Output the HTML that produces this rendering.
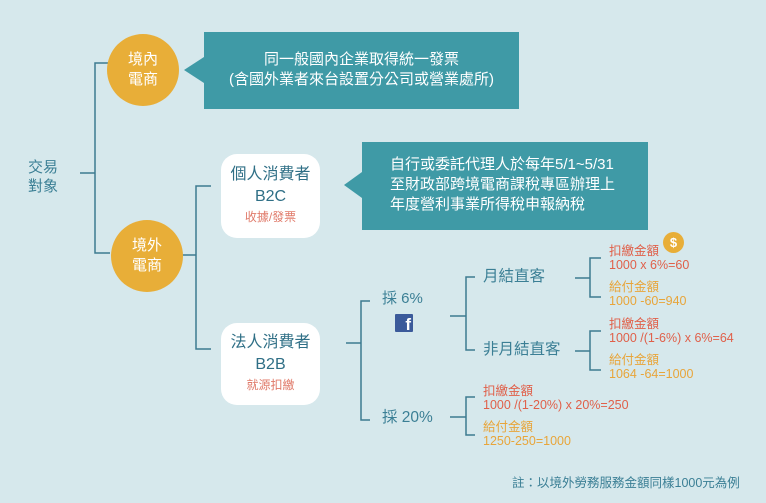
<!DOCTYPE html>
<html><head><meta charset="utf-8"><style>
body{margin:0;width:766px;height:503px;background:#d6e8ec;position:relative;overflow:hidden;font-family:"Liberation Sans","Noto Sans CJK TC",sans-serif}
.t{position:absolute;white-space:nowrap;line-height:1}
.circ{position:absolute;width:72px;height:72px;border-radius:50%;background:#e8ae38;color:#fff;font-size:15px;line-height:20px;text-align:center;display:flex;align-items:center;justify-content:center}
.box{position:absolute;width:99px;background:#fff;border-radius:16px;text-align:center;color:#2f6f86}
.call{position:absolute;background:#3f9aa6;color:#fff;font-size:15px;line-height:20px}
.r{color:#e0604a;font-size:12.5px;line-height:14px}
.o{color:#e8a53a;font-size:12.5px;line-height:14px}
.b{color:#3b7f95}
</style></head><body>
<svg width="766" height="503" style="position:absolute;left:0;top:0" fill="none" stroke="#3d7a90" stroke-width="1.5">
<path d="M80 173H95M110 63H95V253H110"/>
<path d="M181 255H196M211 186H196V349H211"/>
<path d="M346 343H361M370 301H361V420H370"/>
<path d="M450 316H466M475 277H466V350H475"/>
<path d="M575 278H590M601 258H590V297H601"/>
<path d="M575 351H590M601 331H590V370H601"/>
<path d="M450 417H466M475 397H466V435H475"/>
<polygon points="184,70 204,57 204,83" fill="#3f9aa6" stroke="none"/>
<polygon points="344,185 362,172 362,198" fill="#3f9aa6" stroke="none"/>
</svg>
<div class="t b" style="left:28px;top:158px;font-size:15px;line-height:19px">交易<br>對象</div>
<div class="circ" style="left:107px;top:34px">境內<br>電商</div>
<div class="circ" style="left:111px;top:220px">境外<br>電商</div>
<div class="call" style="left:204px;top:32px;width:315px;height:77px;text-align:center;padding-top:18px;box-sizing:border-box">同一般國內企業取得統一發票<br>(含國外業者來台設置分公司或營業處所)</div>
<div class="call" style="left:362px;top:142px;width:286px;height:88px;padding:13px 0 0 28px;box-sizing:border-box">自行或委託代理人於每年5/1~5/31<br>至財政部跨境電商課稅專區辦理上<br>年度營利事業所得稅申報納稅</div>
<div class="box" style="left:221px;top:154px;height:84px"><div style="font-size:16px;margin-top:10px;line-height:22px">個人消費者</div><div style="font-size:16px;line-height:22px">B2C</div><div style="font-size:12px;color:#e07a6a;line-height:18px">收據/發票</div></div>
<div class="box" style="left:221px;top:323px;height:82px"><div style="font-size:16px;margin-top:9px;line-height:22px">法人消費者</div><div style="font-size:16px;line-height:22px">B2B</div><div style="font-size:12px;color:#e07a6a;line-height:18px">就源扣繳</div></div>
<div class="t b" style="left:382px;top:291px;font-size:15px">採 6%</div>
<div style="position:absolute;left:395px;top:314px;width:18px;height:18px;background:#3b5a9a;border-radius:1px;color:#fff;font-weight:bold;font-size:17px;line-height:22px;text-align:right;padding-right:2px;box-sizing:border-box;overflow:hidden">f</div>
<div class="t b" style="left:382px;top:410px;font-size:15.5px">採 20%</div>
<div class="t b" style="left:483px;top:269px;font-size:15.5px">月結直客</div>
<div class="t b" style="left:483px;top:342px;font-size:15.5px">非月結直客</div>
<div class="t" style="left:609px;top:244px"><div class="r">扣繳金額<br>1000 x 6%=60</div><div class="o" style="margin-top:8px">給付金額<br>1000 -60=940</div></div>
<div class="t" style="left:609px;top:317px"><div class="r">扣繳金額<br>1000 /(1-6%) x 6%=64</div><div class="o" style="margin-top:8px">給付金額<br>1064 -64=1000</div></div>
<div class="t" style="left:483px;top:384px"><div class="r">扣繳金額<br>1000 /(1-20%) x 20%=250</div><div class="o" style="margin-top:8px">給付金額<br>1250-250=1000</div></div>
<div style="position:absolute;left:663px;top:232px;width:21px;height:21px;border-radius:50%;background:#e8ae38;color:#fff;font-weight:bold;font-size:13px;line-height:21px;text-align:center">$</div>
<div class="t b" style="left:512px;top:477px;font-size:12.5px">註：以境外勞務服務金額同樣1000元為例</div>
</body></html>
